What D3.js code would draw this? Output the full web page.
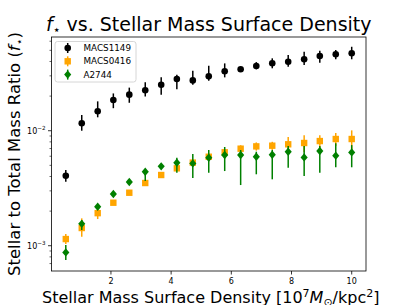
<!DOCTYPE html>
<html>
<head>
<meta charset="utf-8">
<script src="https://cdn.jsdelivr.net/npm/d3@7"></script>
<style>
  body { margin: 0; background: #fff; }
  text { font-family: "DejaVu Sans", sans-serif; fill: #000; }
</style>
</head>
<body>
<script>
// Data
var density = [0.5, 1.03, 1.56, 2.08, 2.61, 3.14, 3.67, 4.19, 4.72, 5.25,
               5.78, 6.31, 6.83, 7.36, 7.89, 8.42, 8.94, 9.47, 10.0];

var macs1149 = [0.00406, 0.0116, 0.01475, 0.0185, 0.0206, 0.0225, 0.0251, 0.0282, 0.0274, 0.0297,
                0.0329, 0.0342, 0.0365, 0.0386, 0.0398, 0.0418, 0.0447, 0.0462, 0.0471];
var macs1149Lo = [0.00360, 0.0100, 0.01308, 0.0157, 0.0175, 0.0198, 0.0206, 0.0229, 0.0251, 0.0272,
                  0.0291, 0.0330, 0.0342, 0.0349, 0.0360, 0.0373, 0.0390, 0.0418, 0.0418];
var macs1149Hi = [0.00455, 0.0137, 0.0180, 0.0211, 0.0237, 0.0264, 0.0291, 0.0307, 0.0332, 0.0367,
                  0.0385, 0.0355, 0.0395, 0.0426, 0.0455, 0.0486, 0.0496, 0.0503, 0.0537];

var macs0416 = [0.001143, 0.001426, 0.00192, 0.002366, 0.00289, 0.00351, 0.00412, 0.00471, 0.00528, 0.00594,
                0.00649, 0.00698, 0.00731, 0.00741, 0.00762, 0.00782, 0.00813, 0.00847, 0.00847];
var macs0416Lo = [0.001035, 0.001197, 0.001706, 0.00226, 0.00279, 0.00336, 0.00392, 0.00446, 0.00498, 0.00554,
                  0.00609, 0.00648, 0.00671, 0.00681, 0.00642, 0.00652, 0.00713, 0.00737, 0.00687];
var macs0416Hi = [0.001265, 0.00173, 0.00211, 0.00247, 0.00299, 0.00366, 0.00432, 0.00496, 0.00558, 0.00634,
                  0.00689, 0.00748, 0.00791, 0.00801, 0.00882, 0.00912, 0.00913, 0.00957, 0.01007];

var a2744 = [0.000875, 0.00155, 0.00218, 0.00282, 0.00358, 0.00440, 0.00490, 0.00527, 0.00520, 0.00582,
             0.00615, 0.00615, 0.00594, 0.00618, 0.00656, 0.00586, 0.00666, 0.00607, 0.00648];
var a2744Lo = [0.000751, 0.001369, 0.00208, 0.00272, 0.00348, 0.00365, 0.00470, 0.00431, 0.00388, 0.00431,
               0.00446, 0.00337, 0.00418, 0.00378, 0.00477, 0.00404, 0.00431, 0.00481, 0.00481];
var a2744Hi = [0.001014, 0.001673, 0.00228, 0.00292, 0.00368, 0.00450, 0.00510, 0.00582, 0.00627, 0.00680,
               0.00722, 0.00680, 0.00657, 0.00680, 0.00736, 0.00736, 0.00736, 0.00777, 0.00750];

var xTicks = [2, 4, 6, 8, 10];
var yMajor = [1e-3, 1e-2];
var yLabels = ["\u22123", "\u22122"];

var width = 407,
    height = 305;
var plotLeft = 51.5, plotRight = 366, plotTop = 37, plotBottom = 271;

var x = d3.scaleLinear().domain([0.025, 10.475]).range([plotLeft, plotRight]);
var y = d3.scaleLog().domain([6.03e-4, 0.0653]).range([plotBottom, plotTop]);

var svg = d3.select("body")
    .append("svg")
    .attr("width", width)
    .attr("height", height);

// Series, drawn in the same order as the original
var series = [
    { name: "MACS1149", vals: macs1149, lo: macs1149Lo, hi: macs1149Hi, color: "#000000", marker: "circle" },
    { name: "MACS0416", vals: macs0416, lo: macs0416Lo, hi: macs0416Hi, color: "#FFA500", marker: "square" },
    { name: "A2744", vals: a2744, lo: a2744Lo, hi: a2744Hi, color: "#008000", marker: "diamond" }
];

function drawMarker(g, kind, cx, cy, color) {
    if (kind === "circle") {
        g.append("circle").attr("cx", cx).attr("cy", cy).attr("r", 3.3).attr("fill", color);
    } else if (kind === "square") {
        g.append("rect").attr("x", cx - 3.2).attr("y", cy - 3.2)
            .attr("width", 6.4).attr("height", 6.4).attr("fill", color);
    } else {
        var s = 4.2;
        g.append("path")
            .attr("d", "M" + cx + "," + (cy - s) + "L" + (cx + s * 0.85) + "," + cy +
                       "L" + cx + "," + (cy + s) + "L" + (cx - s * 0.85) + "," + cy + "Z")
            .attr("fill", color);
    }
}

var plot = svg.append("g");

series.forEach(function (s) {
    var g = plot.append("g");
    density.forEach(function (d, i) {
        g.append("line")
            .attr("x1", x(d)).attr("x2", x(d))
            .attr("y1", y(s.lo[i])).attr("y2", y(s.hi[i]))
            .attr("stroke", s.color)
            .attr("stroke-width", 1.5);
    });
    density.forEach(function (d, i) {
        drawMarker(g, s.marker, x(d), y(s.vals[i]), s.color);
    });
});

// Axes frame
svg.append("rect")
    .attr("x", plotLeft).attr("y", plotTop)
    .attr("width", plotRight - plotLeft).attr("height", plotBottom - plotTop)
    .attr("fill", "none").attr("stroke", "#000").attr("stroke-width", 0.8);

// X ticks
xTicks.forEach(function (t) {
    svg.append("line")
        .attr("x1", x(t)).attr("x2", x(t))
        .attr("y1", plotBottom).attr("y2", plotBottom + 3.5)
        .attr("stroke", "#000").attr("stroke-width", 0.8);
    svg.append("text")
        .attr("x", x(t)).attr("y", plotBottom + 13)
        .attr("text-anchor", "middle")
        .attr("font-size", 8)
        .text(t);
});

// Y ticks, major and minor
var minor = [];
[1e-4, 1e-3, 1e-2].forEach(function (dec) {
    for (var k = 2; k <= 9; k++) {
        var v = k * dec;
        if (v > y.domain()[0] && v < y.domain()[1]) minor.push(v);
    }
});
minor.forEach(function (v) {
    svg.append("line")
        .attr("x1", plotLeft - 2).attr("x2", plotLeft)
        .attr("y1", y(v)).attr("y2", y(v))
        .attr("stroke", "#000").attr("stroke-width", 0.6);
});
yMajor.forEach(function (v, i) {
    svg.append("line")
        .attr("x1", plotLeft - 3.5).attr("x2", plotLeft)
        .attr("y1", y(v)).attr("y2", y(v))
        .attr("stroke", "#000").attr("stroke-width", 0.8);
    var t = svg.append("text")
        .attr("x", plotLeft - 6).attr("y", y(v) + 3)
        .attr("text-anchor", "end")
        .attr("font-size", 8);
    t.append("tspan").text("10");
    t.append("tspan").attr("font-size", 5.6).attr("dy", -3.5).text(yLabels[i]);
});

// Title
var title = svg.append("text")
    .attr("x", (plotLeft + plotRight) / 2).attr("y", 31)
    .attr("text-anchor", "middle")
    .attr("font-size", 19);
title.append("tspan").attr("font-style", "italic").text("f");
title.append("tspan").attr("font-size", 12.5).attr("dy", 3).text("\u22c6");
title.append("tspan").attr("dy", -3).text(" vs. Stellar Mass Surface Density");

// Y label
var yl = svg.append("text")
    .attr("transform", "translate(20," + ((plotTop + plotBottom) / 2) + ") rotate(-90)")
    .attr("text-anchor", "middle")
    .attr("font-size", 16.5);
yl.append("tspan").text("Stellar to Total Mass Ratio (");
yl.append("tspan").attr("font-style", "italic").text("f");
yl.append("tspan").attr("font-size", 11).attr("dy", 3).text("\u22c6");
yl.append("tspan").attr("dy", -3).text(")");

// X label
var xl = svg.append("text")
    .attr("x", (plotLeft + plotRight) / 2 + 2).attr("y", 303)
    .attr("text-anchor", "middle")
    .attr("font-size", 16);
xl.append("tspan").text("Stellar Mass Surface Density [10");
xl.append("tspan").attr("font-size", 11).attr("dy", -6.5).text("7");
xl.append("tspan").attr("font-style", "italic").attr("dy", 6.5).text("M");
xl.append("tspan").attr("font-size", 11).attr("dy", 3).text("\u2299");
xl.append("tspan").attr("dy", -3).text("/kpc");
xl.append("tspan").attr("font-size", 11).attr("dy", -6.5).text("2");
xl.append("tspan").attr("dy", 6.5).text("]");

// Legend
var lg = svg.append("g");
lg.append("rect")
    .attr("x", 55).attr("y", 41.5)
    .attr("width", 81).attr("height", 40.5)
    .attr("rx", 2.5)
    .attr("fill", "#fff").attr("fill-opacity", 0.8)
    .attr("stroke", "#cccccc").attr("stroke-width", 0.8);
series.forEach(function (s, i) {
    var cy = 48 + i * 13.3;
    lg.append("line")
        .attr("x1", 67.7).attr("x2", 67.7)
        .attr("y1", cy - 5).attr("y2", cy + 5)
        .attr("stroke", s.color).attr("stroke-width", 1.5);
    drawMarker(lg, s.marker, 67.7, cy, s.color);
    lg.append("text")
        .attr("x", 83.5).attr("y", cy + 3)
        .attr("font-size", 8.8)
        .attr("fill", "#333")
        .text(s.name);
});
</script>
</body>
</html>
